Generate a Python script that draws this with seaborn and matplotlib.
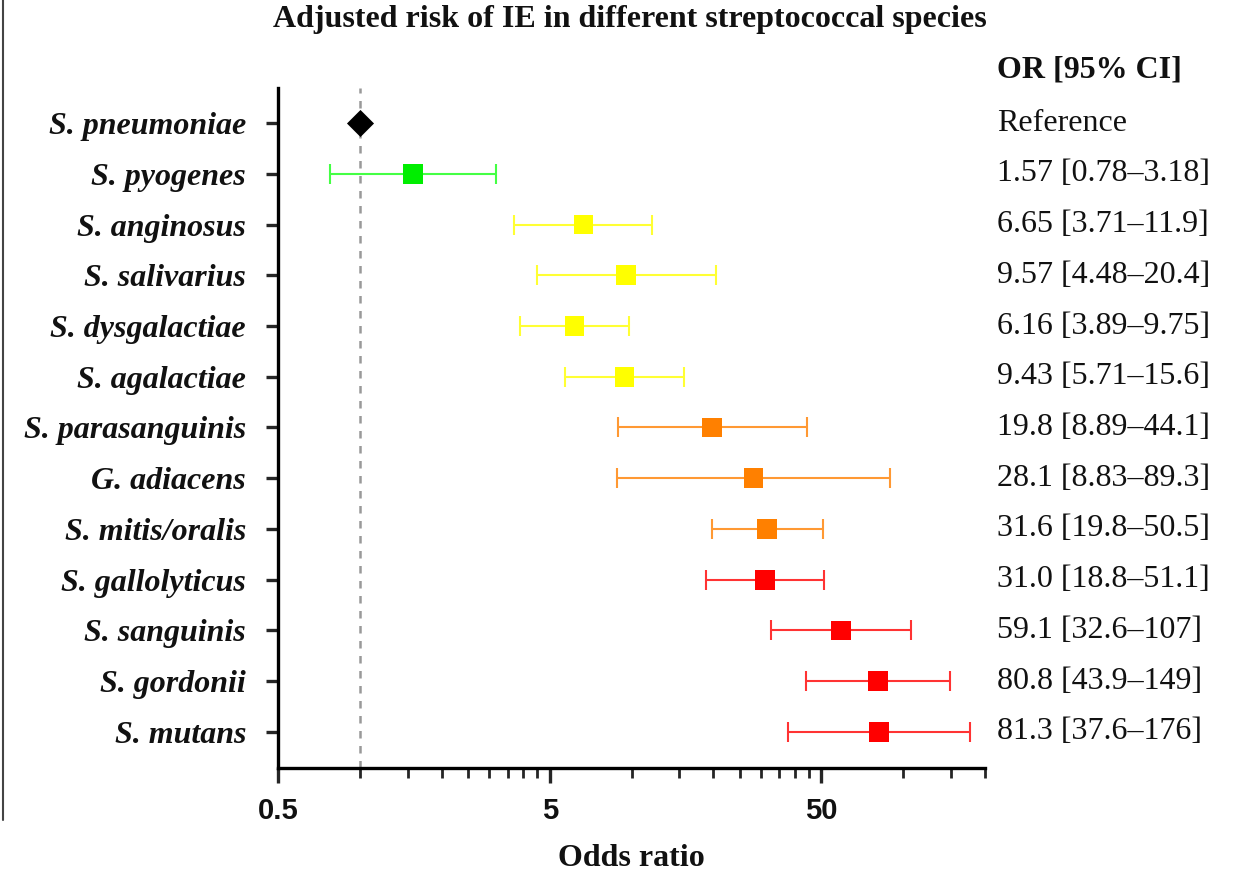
import matplotlib
matplotlib.use("Agg")
import matplotlib.pyplot as plt
import matplotlib.transforms as mtransforms
import seaborn as sns
import pandas as pd
import numpy as np
from matplotlib.ticker import FixedLocator, NullFormatter
from matplotlib.lines import Line2D

species = ["S. pneumoniae", "S. pyogenes", "S. anginosus", "S. salivarius",
           "S. dysgalactiae", "S. agalactiae", "S. parasanguinis", "G. adiacens",
           "S. mitis/oralis", "S. gallolyticus", "S. sanguinis", "S. gordonii",
           "S. mutans"]
odds = [1.0, 1.57, 6.65, 9.57, 6.16, 9.43, 19.8, 28.1, 31.6, 31.0, 59.1, 80.8, 81.3]
ci_low = [np.nan, 0.78, 3.71, 4.48, 3.89, 5.71, 8.89, 8.83, 19.8, 18.8, 32.6, 43.9, 37.6]
ci_high = [np.nan, 3.18, 11.9, 20.4, 9.75, 15.6, 44.1, 89.3, 50.5, 51.1, 107, 149, 176]
groups = ["ref", "green", "yellow", "yellow", "yellow", "yellow", "orange", "orange",
          "orange", "red", "red", "red", "red"]
labels_right = ["Reference", "1.57 [0.78\u20133.18]", "6.65 [3.71\u201311.9]",
                "9.57 [4.48\u201320.4]", "6.16 [3.89\u20139.75]", "9.43 [5.71\u201315.6]",
                "19.8 [8.89\u201344.1]", "28.1 [8.83\u201389.3]", "31.6 [19.8\u201350.5]",
                "31.0 [18.8\u201351.1]", "59.1 [32.6\u2013107]", "80.8 [43.9\u2013149]",
                "81.3 [37.6\u2013176]"]
x_major = [0.5, 5, 50]
x_major_labels = ["0.5", "5", "50"]
x_minor = [1, 1.5, 2, 2.5, 3, 3.5, 4, 4.5, 10, 15, 20, 25, 30, 35, 40, 45, 100, 150, 200]

palette = {"ref": "#000000", "green": "#00ee00", "yellow": "#ffff00",
           "orange": "#ff8000", "red": "#ff0000"}
line_palette = {"ref": "#000000", "green": "#44ff44", "yellow": "#ffff33",
                "orange": "#ff9933", "red": "#ff3333"}

df = pd.DataFrame({"species": species, "odds": odds, "lo": ci_low, "hi": ci_high,
                   "group": groups})
df["pos"] = np.arange(len(df))

sns.set_theme(style="white")
serif = ["Liberation Serif", "DejaVu Serif"]
plt.rcParams["font.family"] = serif

fig = plt.figure(figsize=(12.34, 8.74), dpi=100)
ax = fig.add_axes([278 / 1234, 1 - 768 / 874, (985 - 278) / 1234, (768 - 88) / 874])

ax.axvline(1.0, color="#999999", ls=(0, (3, 3)), lw=1.8, zorder=1)

for _, r in df.iterrows():
    if np.isnan(r["lo"]):
        continue
    ax.errorbar(r["odds"], r["pos"],
                xerr=[[r["odds"] - r["lo"]], [r["hi"] - r["odds"]]],
                fmt="none", ecolor=line_palette[r["group"]], elinewidth=1.5,
                capsize=7, capthick=1.5, zorder=2)

sq = df[df["group"] != "ref"]
sns.scatterplot(data=sq, x="odds", y="pos", hue="group", palette=palette,
                marker="s", s=200, linewidth=0, legend=False, ax=ax, zorder=3)
ref = df[df["group"] == "ref"]
sns.scatterplot(data=ref, x="odds", y="pos", color="black", marker="D", s=190,
                linewidth=0, legend=False, ax=ax, zorder=3)

ax.set_xscale("log")
ax.set_xlim(0.5, 200)
ax.set_ylim(12.71, -0.69)
ax.xaxis.set_major_locator(FixedLocator(x_major))
ax.set_xticklabels(x_major_labels)
ax.xaxis.set_minor_locator(FixedLocator(x_minor))
ax.xaxis.set_minor_formatter(NullFormatter())
ax.set_yticks(df["pos"])
ax.set_yticklabels(species)

for s in ["top", "right"]:
    ax.spines[s].set_visible(False)
for s in ["left", "bottom"]:
    ax.spines[s].set_linewidth(2.4)
    ax.spines[s].set_color("black")

ax.tick_params(axis="y", which="major", direction="out", length=9, width=2.4,
               pad=14, left=True)
ax.tick_params(axis="x", which="major", direction="out", length=11, width=2.4,
               pad=10, bottom=True)
ax.tick_params(axis="x", which="minor", direction="out", length=7, width=2.0,
               bottom=True)
for lab in ax.get_yticklabels():
    lab.set_fontfamily(serif)
    lab.set_fontweight("bold")
    lab.set_fontstyle("italic")
    lab.set_fontsize(23)
    lab.set_color("#111111")
for lab in ax.get_xticklabels():
    lab.set_fontfamily(["Liberation Sans", "DejaVu Sans"])
    lab.set_fontweight("bold")
    lab.set_fontsize(21)
    lab.set_color("#111111")

ax.set_ylabel("")
ax.set_xlabel("Odds ratio", fontsize=23, fontweight="bold", color="#111111")
ax.xaxis.set_label_coords(0.5 + (631 - 631) / 707, (768 - 858) / 680)
ax.xaxis.label.set_va("center")

fig.text(630 / 1234, 1 - 20 / 874, "Adjusted risk of IE in different streptococcal species",
         ha="center", va="center", fontsize=23, fontweight="bold", color="#111111")

ax.text(997 / 1234, 1 - 70 / 874, "OR [95% CI]", transform=fig.transFigure,
        ha="left", va="center", fontsize=23, fontweight="bold", color="#111111")
blend = mtransforms.blended_transform_factory(fig.transFigure, ax.transData)
for i, t in enumerate(labels_right):
    ax.text(997 / 1234, df["pos"][i], t, transform=blend,
            ha="left", va="center", fontsize=23, clip_on=False, color="#111111")

fig.add_artist(Line2D([3 / 1234, 3 / 1234], [1, 1 - 820 / 874], color="#444444", lw=1.5))

fig.savefig("out.png", dpi=100)
